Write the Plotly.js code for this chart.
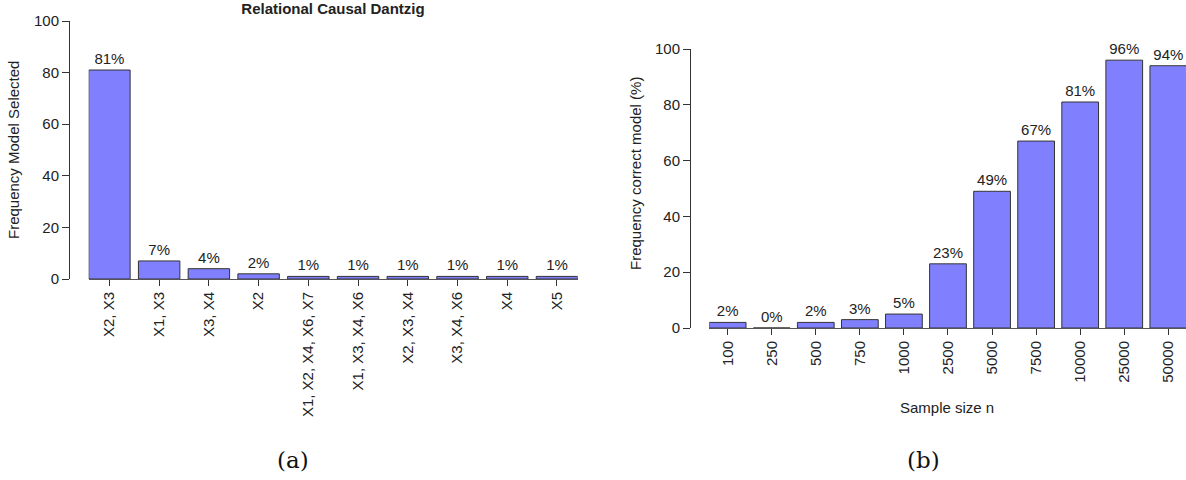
<!DOCTYPE html>
<html>
<head>
<meta charset="utf-8">
<script src="https://cdn.plot.ly/plotly-3.0.1.min.js"></script>
<style>html,body{margin:0;padding:0;background:#fff;}#chart{width:1186px;height:480px;}</style>
</head>
<body>
<div id="chart"></div>
<script>
// ---- data ----
const modelCategories = ['X2, X3', 'X1, X3', 'X3, X4', 'X2', 'X1, X2, X4, X6, X7', 'X1, X3, X4, X6', 'X2, X3, X4', 'X3, X4, X6', 'X4', 'X5'];
const modelFrequency = [81, 7, 4, 2, 1, 1, 1, 1, 1, 1];
const sampleSizes = ['100', '250', '500', '750', '1000', '2500', '5000', '7500', '10000', '25000', '50000'];
const correctFrequency = [2, 0, 2, 3, 5, 23, 49, 67, 81, 96, 94];
const yTicks = [0, 20, 40, 60, 80, 100];
const titleA = 'Relational Causal Dantzig';
const yTitleA = 'Frequency Model Selected';
const yTitleB = 'Frequency correct model (%)';
const xTitleB = 'Sample size n';
const panelLabels = ['(a)', '(b)'];

// ---- layout helpers ----
const W = 1186, H = 480;
const px = v => v / W;
const py = v => 1 - v / H;
const FONT = 'Liberation Sans, Arial, Helvetica, sans-serif';
const TXT = '#222222';
const AX = '#333333';
const BAR = '#8080FF';

const barStyle = {
  type: 'bar',
  marker: {color: BAR, line: {color: AX, width: 1}},
  texttemplate: '%{y}%',
  textposition: 'outside',
  textfont: {family: FONT, size: 15, color: TXT},
  cliponaxis: false,
  constraintext: 'none',
  hoverinfo: 'x+y'
};

const traces = [
  Object.assign({}, barStyle, {x: modelCategories, y: modelFrequency, xaxis: 'x', yaxis: 'y'}),
  Object.assign({}, barStyle, {x: sampleSizes, y: correctFrequency, xaxis: 'x2', yaxis: 'y2'})
];

const xCommon = {
  type: 'category', showline: true, linecolor: '#555', linewidth: 1,
  ticks: 'outside', ticklen: 6, tickcolor: AX, tickwidth: 1,
  tickangle: -90, showgrid: false, zeroline: false, fixedrange: true,
  tickfont: {family: FONT, size: 15, color: TXT}
};
const yCommon = {
  range: [0, 100], tickvals: yTicks, anchor: 'free',
  showline: true, linecolor: AX, linewidth: 1,
  ticks: 'outside', ticklen: 7, tickcolor: AX, tickwidth: 1,
  showgrid: false, zeroline: false, fixedrange: true,
  tickfont: {family: FONT, size: 15, color: TXT}
};

const layout = {
  width: W, height: H,
  margin: {l: 0, r: 0, t: 0, b: 0},
  paper_bgcolor: '#fff', plot_bgcolor: 'rgba(0,0,0,0)',
  showlegend: false,
  bargap: 1 / 6,
  font: {family: FONT, color: TXT},
  title: {
    text: '<b>' + titleA + '</b>',
    font: {family: FONT, size: 15, color: TXT},
    x: px(333), xref: 'container', xanchor: 'center',
    y: py(9), yref: 'container', yanchor: 'middle'
  },
  xaxis: Object.assign({}, xCommon, {domain: [px(88.7), px(577.7)], range: [-0.4167, 9.4167], anchor: 'y'}),
  yaxis: Object.assign({}, yCommon, {domain: [py(279), py(21)], position: px(69)}),
  xaxis2: Object.assign({}, xCommon, {domain: [px(709.3), 1], range: [-0.4167, 10.4015], anchor: 'y2'}),
  yaxis2: Object.assign({}, yCommon, {domain: [py(328), py(49)], position: px(690)}),
  annotations: [
    {text: yTitleA, textangle: -90, x: px(13), y: py(150), xref: 'paper', yref: 'paper',
     xanchor: 'center', yanchor: 'middle', showarrow: false, font: {family: FONT, size: 15, color: TXT}},
    {text: yTitleB, textangle: -90, x: px(635), y: py(174), xref: 'paper', yref: 'paper',
     xanchor: 'center', yanchor: 'middle', showarrow: false, font: {family: FONT, size: 15, color: TXT}},
    {text: xTitleB, x: px(947), y: py(407), xref: 'paper', yref: 'paper',
     xanchor: 'center', yanchor: 'middle', showarrow: false, font: {family: FONT, size: 15, color: TXT}},
    {text: panelLabels[0], x: px(293), y: py(460), xref: 'paper', yref: 'paper',
     xanchor: 'center', yanchor: 'middle', showarrow: false, font: {family: 'DejaVu Serif, serif', size: 23, color: '#111'}},
    {text: panelLabels[1], x: px(923), y: py(460), xref: 'paper', yref: 'paper',
     xanchor: 'center', yanchor: 'middle', showarrow: false, font: {family: 'DejaVu Serif, serif', size: 23, color: '#111'}}
  ]
};

Plotly.newPlot('chart', traces, layout, {displayModeBar: false, staticPlot: true});
</script>
</body>
</html>
